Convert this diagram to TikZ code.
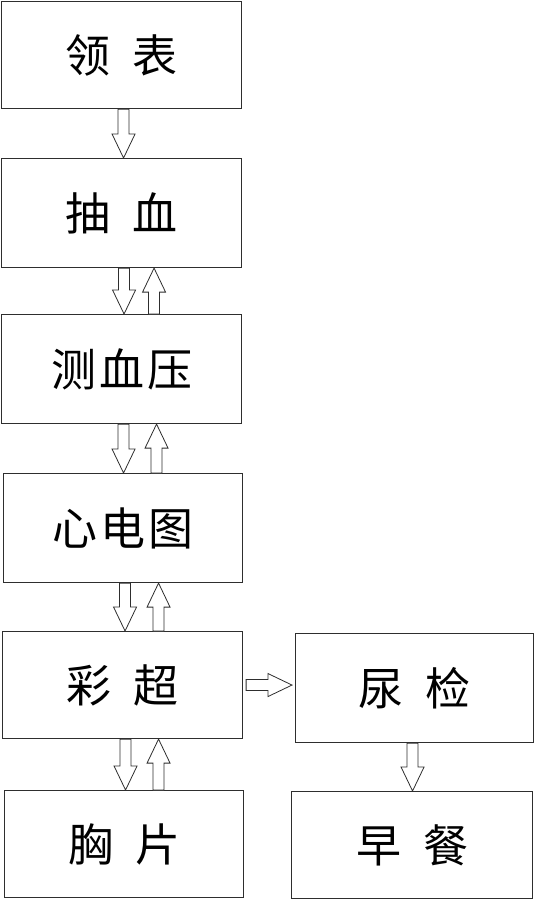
\documentclass[tikz,border=0pt]{standalone}
\usepackage{fontspec}
\newfontfamily\cjk{Noto Sans CJK SC}
\usetikzlibrary{calc}
\definecolor{ink}{HTML}{2E2E2E}
\tikzset{
  every node/.style={font=\cjk\fontsize{45}{54}\selectfont,text=black},
  box/.style={draw=ink,line width=1.1pt,minimum width=240pt,minimum height=108pt,anchor=north west,inner sep=0pt},
  % hollow block arrow from start to target
  hollow/.style={draw=ink,line width=.8pt,fill=white,line join=miter,
    to path={let \p1=(\tikztostart),\p2=(\tikztotarget),
      \n1={veclen(\x2-\x1,\y2-\y1)},\n2={(\x2-\x1)/\n1},\n3={(\y2-\y1)/\n1} in
      ({\x1-5.5*\n3},{\y1+5.5*\n2})
      -- ({\x2-24*\n2-5.5*\n3},{\y2-24*\n3+5.5*\n2})
      -- ({\x2-24*\n2-11.5*\n3},{\y2-24*\n3+11.5*\n2})
      -- (\p2)
      -- ({\x2-24*\n2+11.5*\n3},{\y2-24*\n3-11.5*\n2})
      -- ({\x2-24*\n2+5.5*\n3},{\y2-24*\n3-5.5*\n2})
      -- ({\x1+5.5*\n3},{\y1-5.5*\n2}) -- cycle}}
}
\begin{document}
\begin{tikzpicture}[x=1pt,y=-1pt]
\path[use as bounding box] (0,0) rectangle (535,900);
% left column
\node[box,minimum height=107pt] (lingbiao) at (1,1) {领\hspace{22pt}表};
\node[box,minimum height=109pt] (chouxue) at (1,158) {抽\hspace{22pt}血};
\node[box,minimum height=109pt] (cexueya) at (1,314) {测\hspace{3pt}血\hspace{3pt}压};
\node[box,minimum width=239pt,minimum height=109pt] (xindiantu) at (3,473) {心\hspace{3pt}电\hspace{3pt}图};
\node[box,minimum height=107pt] (caichao) at (2,631) {彩\hspace{22pt}超};
\node[box,minimum width=239pt,minimum height=107pt] (xiongpian) at (4,790) {胸\hspace{22pt}片};
% right column
\node[box,minimum width=238pt,minimum height=109pt] (niaojian) at (295,633) {尿\hspace{22pt}检};
\node[box,minimum width=241pt,minimum height=107pt] (zaocan) at (291,791) {早\hspace{22pt}餐};
% arrows
\draw[hollow] ([xshift=2pt]lingbiao.south) to ([xshift=2pt]chouxue.north);
\draw[hollow] ([xshift=2.5pt]chouxue.south) to ([xshift=2.5pt]cexueya.north);
\draw[hollow] ([xshift=32.5pt]cexueya.north) to ([xshift=32.5pt]chouxue.south);
\draw[hollow] ([xshift=2pt]cexueya.south) to ([xshift=.5pt]xindiantu.north);
\draw[hollow] ([xshift=33.5pt]xindiantu.north) to ([xshift=35pt]cexueya.south);
\draw[hollow] ([xshift=2pt]xindiantu.south) to ([xshift=2.5pt]caichao.north);
\draw[hollow] ([xshift=36pt]caichao.north) to ([xshift=35.5pt]xindiantu.south);
\draw[hollow] ([xshift=3pt]caichao.south) to ([xshift=1.5pt]xiongpian.north);
\draw[hollow] ([xshift=34.5pt]xiongpian.north) to ([xshift=36pt]caichao.south);
\draw[hollow] ([xshift=3pt]caichao.east) to ($(caichao.east -| niaojian.west)+(-3,0)$);
\draw[hollow] ([xshift=-2pt]niaojian.south) to ([xshift=.5pt]zaocan.north);
\end{tikzpicture}
\end{document}
